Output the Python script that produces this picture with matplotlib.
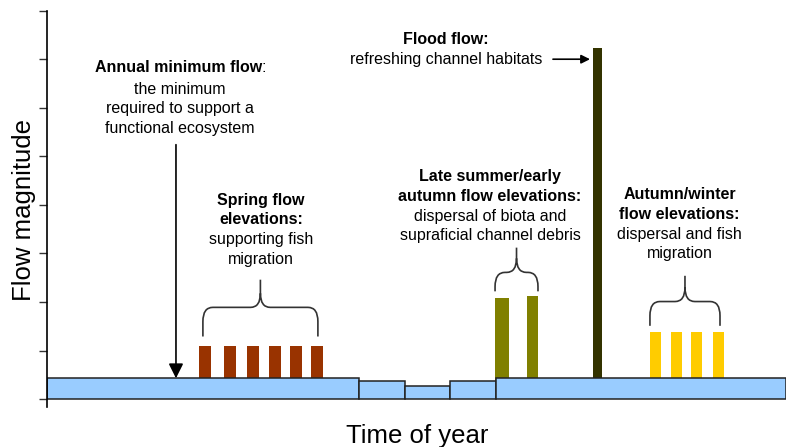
import matplotlib
matplotlib.use('Agg')
from matplotlib import pyplot as plt
from matplotlib.path import Path
from matplotlib.patches import PathPatch

plt.rcParams['font.family'] = ['Liberation Sans', 'DejaVu Sans']

# time in days of the year, flow in arbitrary units
base_edges = [0, 154, 177, 199, 222, 365]
base_flow = [0.43, 0.37, 0.27, 0.37, 0.43]

spring_days = [78.0, 90.4, 101.9, 112.6, 123.0, 133.4]
spring_flow = [1.10, 1.10, 1.10, 1.10, 1.10, 1.10]

late_days = [224.7, 239.9]
late_flow = [2.09, 2.12]

flood_days = [271.9]
flood_flow = [7.23]

autumn_days = [300.5, 310.7, 320.9, 331.7]
autumn_flow = [1.38, 1.38, 1.38, 1.38]

FS = 11.5
STEP = 0.405  # one text line in flow units


def brace(ax, x0, x1, yb, ym, yt, rx=4.9, ry=0.29):
    xc = (x0 + x1) / 2.
    M, L, C = Path.MOVETO, Path.LINETO, Path.CURVE3
    verts = [(x0, yb), (x0, ym - ry), (x0, ym), (x0 + rx, ym),
             (xc - rx, ym), (xc, ym), (xc, ym + ry), (xc, yt),
             (xc, ym + ry), (xc, ym), (xc + rx, ym),
             (x1 - rx, ym), (x1, ym), (x1, ym - ry), (x1, yb)]
    codes = [M, L, C, C, L, C, C, L, M, C, C, L, C, C, L]
    ax.add_patch(PathPatch(Path(verts, codes), fc='none', ec='#333333',
                           lw=1.2, zorder=3))


def label(ax, x, y, bold, normal):
    # stack lines top-down, bold ones first
    for i, s in enumerate(bold + normal):
        ax.text(x, y - i * STEP, s, ha='center', va='center', fontsize=FS,
                fontweight='bold' if i < len(bold) else 'normal')


fig = plt.figure(figsize=(7.86, 4.47), dpi=100)
ax = fig.add_axes([0.0598, 0.0902, 0.9402, 0.886])

# flow pulses (drawn from zero, hidden under base flow)
ax.bar(spring_days, spring_flow, width=5.9, color='#993300', zorder=1)
ax.bar(late_days, late_flow, width=[6.9, 5.6], color='#808000', zorder=1)
ax.bar(flood_days, flood_flow, width=4.1, color='#333300', zorder=1)
ax.bar(autumn_days, autumn_flow, width=5.4, color='#FFCC00', zorder=1)

# base flow blocks
widths = [b - a for a, b in zip(base_edges[:-1], base_edges[1:])]
ax.bar(base_edges[:-1], base_flow, width=widths, align='edge',
       color='#99CCFF', edgecolor='#222222', lw=1.1, zorder=2)

# braces
brace(ax, 77.0, 133.8, 1.29, 1.89, 2.46)
brace(ax, 221.3, 242.5, 2.22, 2.61, 3.12)
brace(ax, 297.8, 332.4, 1.51, 2.01, 2.54)

# annual minimum
t = ax.text(64.8, 6.82, 'Annual minimum flow', ha='center', va='center',
            fontsize=FS, fontweight='bold')
ax.annotate(':', xy=(1, 0.5), xycoords=t, ha='left', va='center',
            fontsize=FS)
label(ax, 65.7, 6.38, [], ['the minimum', 'required to support a',
                           'functional ecosystem'])
ax.annotate('', xy=(63.7, 0.43), xytext=(63.7, 5.24),
            arrowprops=dict(arrowstyle='-|>', color='black', lw=1.2,
                            mutation_scale=22, shrinkA=0, shrinkB=0),
            zorder=4)

label(ax, 105.7, 4.10, ['Spring flow', 'elevations:'],
      ['supporting fish', 'migration'])
label(ax, 218.8, 4.58, ['Late summer/early', 'autumn flow elevations:'],
      ['dispersal of biota and', 'supraficial channel debris'])
label(ax, 312.4, 4.21, ['Autumn/winter', 'flow elevations:'],
      ['dispersal and fish', 'migration'])

ax.text(197.1, 7.40, 'Flood flow:', ha='center', va='center', fontsize=FS,
        fontweight='bold')
ax.text(197.1, 7.0, 'refreshing channel habitats', ha='center',
        va='center', fontsize=FS)
ax.annotate('', xy=(268.2, 7.0), xytext=(249.9, 7.0),
            arrowprops=dict(arrowstyle='-|>', color='black', lw=1.2,
                            mutation_scale=13, shrinkA=0, shrinkB=0))

ax.set_xlim(0, 365)
ax.set_ylim(-0.155, 8.0)
ax.set_yticks(range(9))
ax.set_yticklabels([])
ax.set_xticks([])
ax.tick_params(axis='y', length=6, width=1, color='#333333')
for s in ['top', 'right', 'bottom']:
    ax.spines[s].set_visible(False)
ax.spines['left'].set_linewidth(1.2)

fig.text(0.0305, 0.53, 'Flow magnitude', rotation=90, ha='center',
         va='center', fontsize=18.5)
fig.text(0.5305, 0.0096, 'Time of year', ha='center', va='baseline',
         fontsize=18.5)

fig.savefig('out.png', dpi=100)
